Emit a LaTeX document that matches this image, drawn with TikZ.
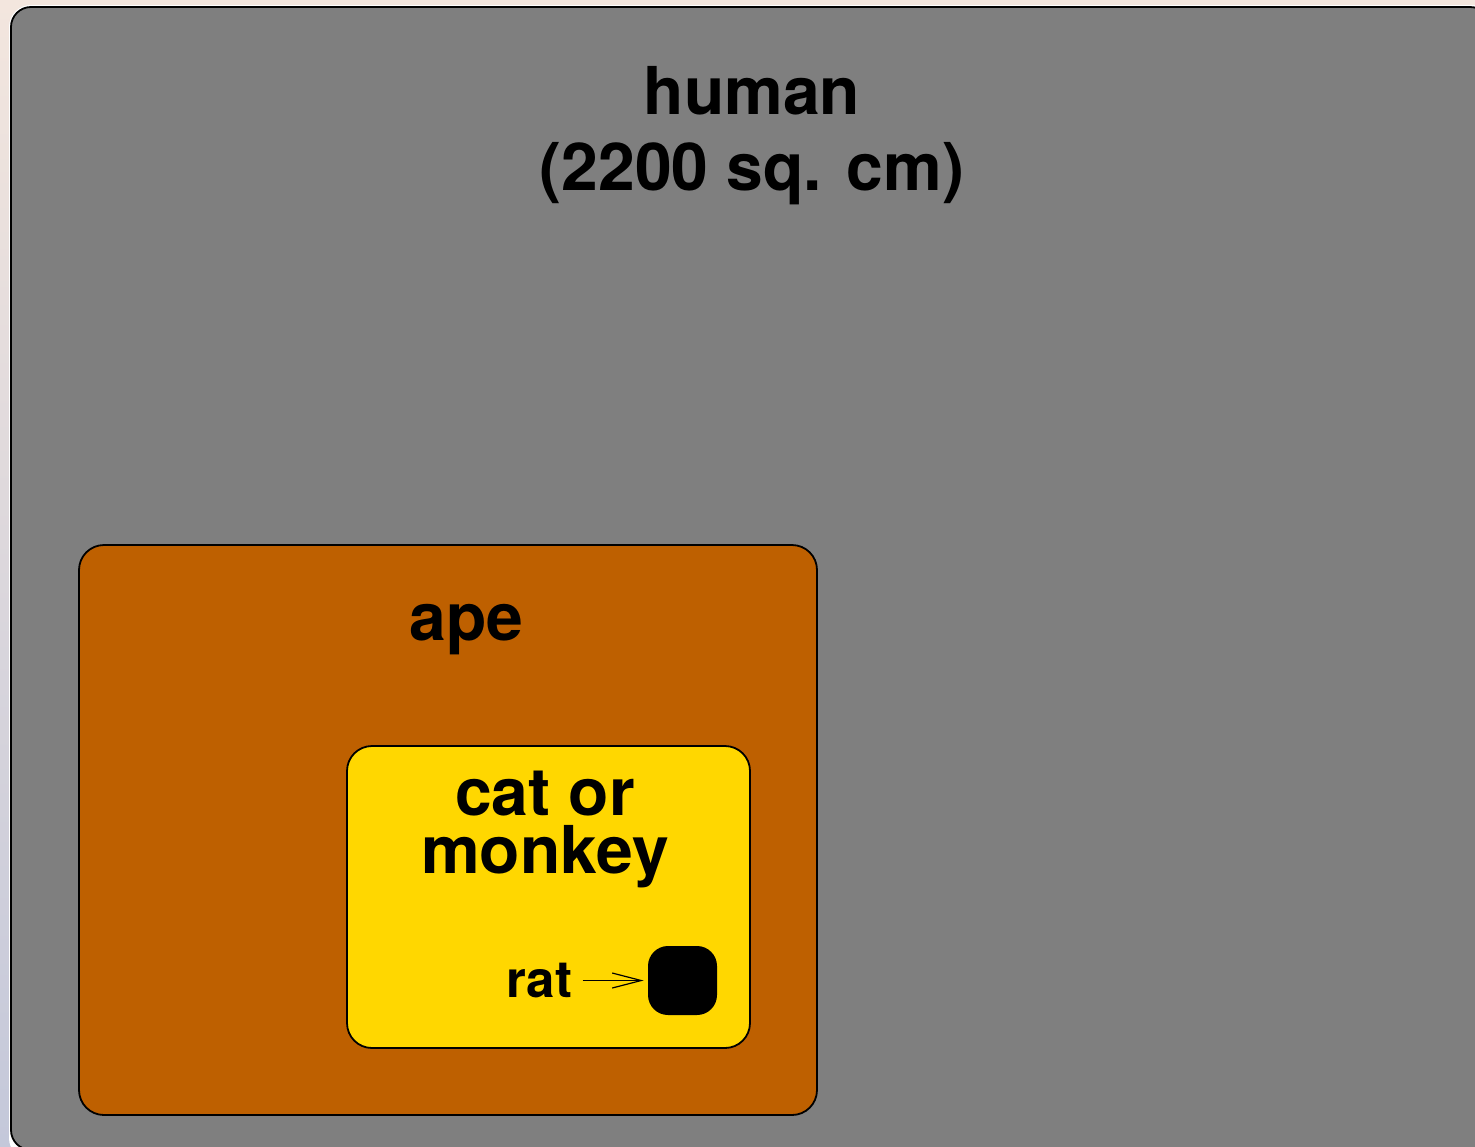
\documentclass[tikz,border=0pt]{standalone}
\usepackage{fontspec}
\setsansfont{TeX Gyre Heros}
\usetikzlibrary{positioning,arrows.meta}
\definecolor{humangray}{RGB}{127,127,127}
\definecolor{apeorange}{RGB}{190,96,0}
\definecolor{catyellow}{RGB}{255,215,0}
\definecolor{bgpink}{RGB}{243,230,222}
\definecolor{bgblue}{RGB}{196,200,218}
\tikzstyle{region}=[rectangle,draw=black,line width=0.9pt,inner sep=0pt]
\tikzstyle{bigname}=[font=\sffamily\bfseries\fontsize{33}{38}\selectfont,
align=center,inner sep=0pt,anchor=base]
\tikzstyle{smallname}=[font=\sffamily\bfseries\fontsize{25.5}{30}\selectfont,inner sep=0pt]
\tikzstyle{ratarrow}=[-{Straight Barb[length=14.5pt,width=7.5pt]},line width=0.6pt]

\begin{document}
\begin{tikzpicture}[x=0.5pt,y=-0.5pt]
            \useasboundingbox (0,0) rectangle (1475,1146);
            % backdrop
            \shade[top color=bgpink,bottom color=bgblue] (0,0) rectangle (1475,1146);
            \fill[white,rounded corners=11pt] (9,5) rectangle (1500,1160);

            % HUMAN PART
            \node[region,fill=humangray,rounded corners=10pt,
                  minimum width=739.5pt,minimum height=571.5pt] (human) at (750.5,578.5) {};
            \node[bigname] (humanname) at (752,190) {human\\(2200 sq. cm)};

            % APE PART
            \node[region,fill=apeorange,rounded corners=12.5pt,
                  minimum width=369pt,minimum height=285pt] (ape) at (448,830) {};
            \node[bigname] (apename) at (466.5,640) {ape};

            % CAT OR MONKEY PART
            \node[region,fill=catyellow,rounded corners=12.5pt,
                  minimum width=201.5pt,minimum height=151pt] (cat) at (548.5,897) {};
            \node[bigname,font=\sffamily\bfseries\fontsize{33}{29}\selectfont] (catname) at (545,873) {cat or\\monkey};

            % RAT PART
            \node[rectangle,fill=black,rounded corners=10pt,inner sep=0pt,
                  minimum size=34.5pt] (rat) at (682.5,980.5) {};
            \node[smallname,left=37.5pt of rat] (ratname) {rat};

            \draw[ratarrow,shorten <=5pt,shorten >=2pt] (ratname) -- (rat);

        \end{tikzpicture}
\end{document}
